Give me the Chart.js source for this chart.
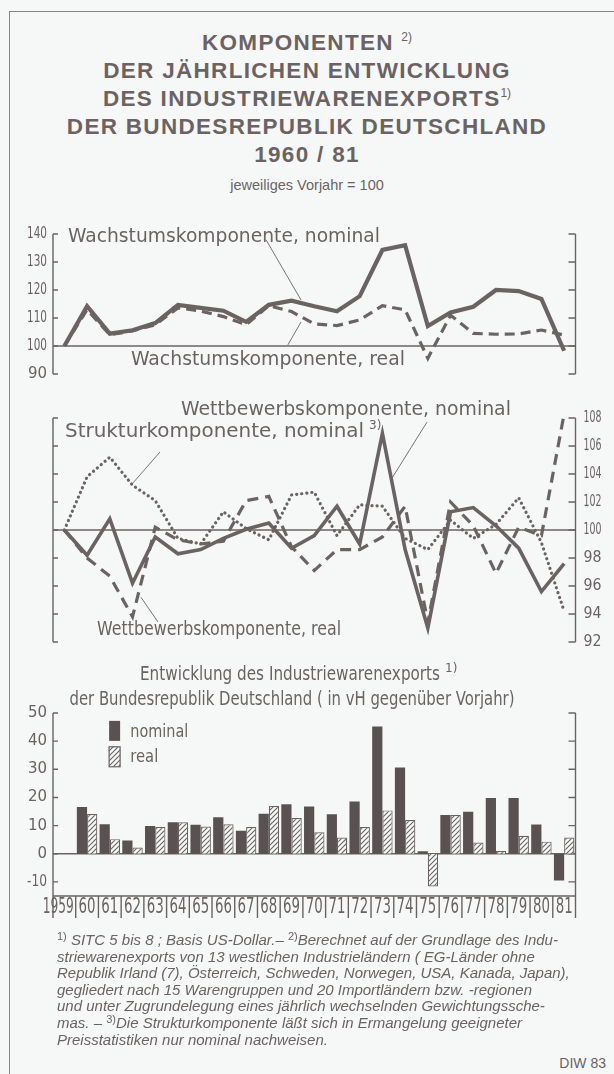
<!DOCTYPE html>
<html lang="de">
<head>
<meta charset="utf-8">
<script src="https://cdn.jsdelivr.net/npm/chart.js@4.4.1/dist/chart.umd.min.js"></script>
<style>
  html, body { margin: 0; padding: 0; }
  body {
    width: 614px; height: 1074px; position: relative; overflow: hidden;
    background: #f6f8f7; color: #6b6363;
    font-family: "Liberation Sans", Arial, sans-serif;
  }
  .frame {
    position: absolute; left: 9px; top: 11px; width: 620px; height: 1080px;
    border-left: 1.5px solid #8b8484; border-top: 1.5px solid #8b8484;
  }
  .title {
    position: absolute; left: 0; top: 29px; width: 614px; text-align: center;
    font-weight: bold; font-size: 22.5px; line-height: 28px; letter-spacing: 1.3px;
  }
  .title .sup { font-size: 12px; font-weight: normal; position: relative; top: -9px; line-height: 0; letter-spacing: 0; }
  .title .sub { font-size: 14.5px; font-weight: normal; letter-spacing: 0; }
  canvas { position: absolute; left: 0; }
  .notes {
    position: absolute; left: 57px; top: 932px; width: 550px;
    font-style: italic; font-size: 15px; line-height: 16.6px; white-space: nowrap;
  }
  .notes .sup { font-style: normal; font-size: 11px; position: relative; top: -5px; line-height: 0; }
  .diw { position: absolute; right: 8px; top: 1055px; font-size: 14px; }
</style>
</head>
<body>
<div class="frame"></div>
<div class="title">
  KOMPONENTEN <span class="sup">2)</span><br>
  DER JÄHRLICHEN ENTWICKLUNG<br>
  DES INDUSTRIEWARENEXPORTS<span class="sup">1)</span><br>
  DER BUNDESREPUBLIK DEUTSCHLAND<br>
  1960 / 81<br>
  <span class="sub">jeweiliges Vorjahr = 100</span>
</div>

<canvas id="c1" width="614" height="180" style="top:214px"></canvas>
<canvas id="c2" width="614" height="260" style="top:400px"></canvas>
<canvas id="c3" width="614" height="280" style="top:650px"></canvas>

<div class="notes">
  <span class="sup">1)</span> SITC 5 bis 8 ; Basis US-Dollar.– <span class="sup">2)</span>Berechnet auf der Grundlage des Indu-<br>
  striewarenexports von 13 westlichen Industrieländern ( EG-Länder ohne<br>
  Republik Irland (7), Österreich, Schweden, Norwegen, USA, Kanada, Japan),<br>
  gegliedert nach 15 Warengruppen und 20 Importländern bzw. -regionen<br>
  und unter Zugrundelegung eines jährlich wechselnden Gewichtungssche-<br>
  mas. – <span class="sup">3)</span>Die Strukturkomponente läßt sich in Ermangelung geeigneter<br>
  Preisstatistiken nur nominal nachweisen.
</div>
<div class="diw">DIW 83</div>

<script>
const INK = '#6b6363';
const DARK = '#5a5252';
const BG = '#f6f8f7';
const COND = '"DejaVu Sans", "Liberation Sans", sans-serif';

// Jahre 1959 - 1981
const years = ['1959', '60', '61', '62', '63', '64', '65', '66', '67', '68', '69', '70',
  '71', '72', '73', '74', '75', '76', '77', '78', '79', '80', '81'];

// Wachstumskomponente (Vorjahr = 100)
const wachsNominal = [100, 114.2, 104.4, 105.6, 108.2, 114.7, 113.6, 112.6, 108.6, 114.7, 116.2, 114.2,
  112.4, 117.8, 134.3, 136.0, 107.1, 112.0, 114.0, 120.0, 119.6, 116.8, 98.3];
const wachsReal = [100, 113.0, 104.0, 105.4, 107.6, 113.6, 112.5, 110.5, 107.6, 114.4, 112.3, 107.9,
  107.3, 109.3, 114.4, 112.9, 95.6, 111.0, 104.5, 104.2, 104.3, 105.7, 103.9];
const wachsTicks = [90, 100, 110, 120, 130, 140];

// Wettbewerbs- und Strukturkomponente
const wettNominal = [100, 98.2, 100.8, 96.2, 99.5, 98.3, 98.6, 99.4, 100.05, 100.5, 98.7, 99.6,
  101.7, 99.0, 106.9, 98.6, 93.0, 101.3, 101.6, 100.3, 98.7, 95.6, 97.6];
const wettReal = [100, 98.0, 96.7, 93.8, 100.2, 99.3, 99.0, 99.2, 102.1, 102.4, 98.8, 97.1,
  98.6, 98.6, 99.5, 101.7, 93.4, 102.0, 100.3, 96.9, 100.2, 99.6, 108.3];
const strukturNominal = [100, 103.8, 105.2, 103.2, 102.1, 99.4, 99.0, 101.3, 100.1, 99.3, 102.5, 102.7,
  99.6, 101.8, 101.7, 99.4, 98.6, 100.7, 99.4, 100.4, 102.3, 99.1, 94.2];
const wettTicks = [92, 94, 96, 98, 100, 102, 104, 106, 108];

// Exporte, Veraenderung in vH gegenueber Vorjahr
const exportNominal = [null, 16.6, 10.5, 4.7, 9.9, 11.2, 10.3, 13.0, 8.2, 14.2, 17.6, 16.8,
  14.0, 18.6, 45.2, 30.6, 0.9, 13.8, 14.9, 19.8, 19.8, 10.4, -9.5];
const exportReal = [null, 14.1, 5.2, 2.2, 9.5, 11.2, 9.7, 10.5, 9.5, 17.0, 12.7, 7.6,
  5.8, 9.5, 15.4, 12.0, -11.6, 13.8, 4.0, 1.0, 6.4, 4.3, 5.8];
const exportTicks = [-10, 0, 10, 20, 30, 40, 50];

function hatchPattern() {
  const c = document.createElement('canvas');
  c.width = 5; c.height = 5;
  const g = c.getContext('2d');
  g.fillStyle = BG; g.fillRect(0, 0, 5, 5);
  g.strokeStyle = INK; g.lineWidth = 1.1;
  g.beginPath();
  g.moveTo(-1, 6); g.lineTo(6, -1);
  g.moveTo(-1, 1); g.lineTo(1, -1);
  g.moveTo(4, 6); g.lineTo(6, 4);
  g.stroke();
  return g.createPattern(c, 'repeat');
}

function drawText(ctx, t, px, py, size, w, align) {
  ctx.font = size + 'px ' + COND;
  ctx.textAlign = align || 'left';
  ctx.textBaseline = 'middle';
  ctx.fillText(t, px, py, w);
}

// Achsen, Hilfslinien und Beschriftungen
const decor = {
  id: 'decor',
  beforeDatasetsDraw(chart, args, o) {
    const { ctx, chartArea: a } = chart;
    const x = chart.scales.x, y = chart.scales.y;
    ctx.save();
    ctx.strokeStyle = INK;
    ctx.lineWidth = 1.4;
    const top = y.getPixelForValue(o.top);
    const bot = a.bottom + (o.extend || 0);
    ctx.beginPath();
    ctx.moveTo(a.left, top); ctx.lineTo(a.left, bot);
    ctx.moveTo(a.right, top); ctx.lineTo(a.right, bot);
    o.ticks.forEach(v => {
      const py = y.getPixelForValue(v);
      ctx.moveTo(a.left, py); ctx.lineTo(a.left + 5, py);
      ctx.moveTo(a.right, py); ctx.lineTo(a.right - 7, py);
    });
    ctx.stroke();
    if (o.ref != null) {
      const py = y.getPixelForValue(o.ref);
      ctx.lineWidth = 1.6;
      ctx.beginPath(); ctx.moveTo(a.left, py); ctx.lineTo(a.right, py); ctx.stroke();
    }
    if (o.baseline) {
      ctx.lineWidth = 1.4;
      ctx.beginPath(); ctx.moveTo(a.left, a.bottom); ctx.lineTo(a.right, a.bottom);
      for (let i = 0; i < years.length - 1; i++) {
        const px = (x.getPixelForValue(i) + x.getPixelForValue(i + 1)) / 2;
        ctx.moveTo(px, a.bottom); ctx.lineTo(px, bot);
      }
      ctx.stroke();
    }
    ctx.restore();
  },
  afterDatasetsDraw(chart, args, o) {
    const { ctx, chartArea: a } = chart;
    const x = chart.scales.x, y = chart.scales.y;
    ctx.save();
    ctx.fillStyle = INK;
    ctx.strokeStyle = INK;
    // Skalenbeschriftung
    o.ticks.forEach(v => {
      if (o.labelSide === 'left') drawText(ctx, String(v), a.left - 6, y.getPixelForValue(v), 15, 20, 'right');
      else if (o.labelSide === 'right') drawText(ctx, String(v), a.right + 8, y.getPixelForValue(v), 15, 18, 'left');
    });
    if (o.baseline) {
      years.forEach((lab, i) => {
        const px = x.getPixelForValue(i);
        const py = a.bottom + 12;
        if (i === 0) drawText(ctx, lab, (px + x.getPixelForValue(1)) / 2 - 2, py, 21, 31, 'right');
        else drawText(ctx, lab, px, py, 21, 17, 'center');
      });
    }
    // Hinweislinien
    ctx.lineWidth = 0.9;
    (o.leaders || []).forEach(l => {
      ctx.beginPath();
      ctx.moveTo(x.getPixelForValue(l[0]), y.getPixelForValue(l[1]));
      ctx.lineTo(x.getPixelForValue(l[2]), y.getPixelForValue(l[3]));
      ctx.stroke();
    });
    // Reihenbeschriftungen
    (o.texts || []).forEach(t => {
      const px = x.getPixelForValue(t.x), py = y.getPixelForValue(t.y);
      drawText(ctx, t.t, px, py, t.size, t.w, 'left');
      if (t.sup) drawText(ctx, t.sup, px + t.w + 5, py - 6, 12, 16, 'left');
    });
    (o.free || []).forEach(t => {
      drawText(ctx, t.t, t.px, t.py, t.size, t.w, 'center');
      if (t.sup) drawText(ctx, t.sup, t.px + t.w / 2 + 5, t.py - 6, 12, 16, 'left');
    });
    ctx.restore();
  }
};

const baseOptions = (pad, yMin, yMax) => ({
  responsive: false,
  animation: false,
  devicePixelRatio: 1,
  layout: { padding: pad },
  plugins: { legend: { display: false }, tooltip: { enabled: false } },
  scales: {
    x: { type: 'category', offset: true, display: false },
    y: { type: 'linear', min: yMin, max: yMax, display: false }
  }
});

const lineSet = (data, width, dash, cap) => ({
  data, borderColor: INK, borderWidth: width, borderDash: dash || [],
  borderCapStyle: cap || 'butt', borderJoinStyle: 'miter',
  pointRadius: 0, tension: 0, fill: false
});

// Diagramm 1: Wachstumskomponente
const opt1 = baseOptions({ left: 53, right: 38.5, top: 20, bottom: 20 }, 90, 140);
opt1.plugins.decor = {
  top: 140, ticks: wachsTicks, labelSide: 'left', ref: 100,
  texts: [
    { t: 'Wachstumskomponente, nominal', x: 0.16, y: 139, size: 20, w: 312 },
    { t: 'Wachstumskomponente, real', x: 2.93, y: 95, size: 20, w: 274 }
  ],
  leaders: [[8.88, 137.9, 10.42, 116.4], [9.84, 100.4, 10.42, 108.6]]
};
new Chart(document.getElementById('c1'), {
  type: 'line',
  data: {
    labels: years,
    datasets: [
      lineSet(wachsReal, 3.2, [10, 6]),
      lineSet(wachsNominal, 4.2)
    ]
  },
  options: opt1,
  plugins: [decor]
});

// Diagramm 2: Wettbewerbs- und Strukturkomponente
const opt2 = baseOptions({ left: 53, right: 38.5, top: 18, bottom: 18 }, 92, 108);
opt2.plugins.decor = {
  top: 108, ticks: wettTicks, labelSide: 'right', ref: 100,
  texts: [
    { t: 'Wettbewerbskomponente, nominal', x: 5.13, y: 108.57, size: 20, w: 330 },
    { t: 'Strukturkomponente, nominal', x: 0.03, y: 107.0, size: 20, w: 299, sup: '3)' },
    { t: 'Wettbewerbskomponente, real', x: 1.44, y: 92.86, size: 20, w: 244 }
  ],
  leaders: [[15.96, 107.7, 14.42, 103.7], [4.21, 105.57, 3.02, 103.36], [4.12, 93.43, 3.37, 95.2]]
};
new Chart(document.getElementById('c2'), {
  type: 'line',
  data: {
    labels: years,
    datasets: [
      lineSet(strukturNominal, 3.2, [0.1, 5], 'round'),
      lineSet(wettReal, 3.2, [11, 7]),
      lineSet(wettNominal, 3.6)
    ]
  },
  options: opt2,
  plugins: [decor]
});

// Diagramm 3: Industriewarenexporte
const opt3 = baseOptions({ left: 53, right: 38.5, top: 63, bottom: 34 }, -15, 50);
opt3.plugins.decor = {
  top: 50, ticks: exportTicks, labelSide: 'left', ref: 0, extend: 22, baseline: true,
  free: [
    { t: 'Entwicklung des Industriewarenexports', px: 290, py: 25, size: 19, w: 300, sup: '1)' },
    { t: 'der Bundesrepublik Deutschland ( in vH gegenüber Vorjahr)', px: 292, py: 50, size: 19, w: 445 }
  ],
  texts: [
    { t: 'nominal', x: 2.9, y: 43.2, size: 17, w: 58 },
    { t: 'real', x: 2.9, y: 34.2, size: 17, w: 28 }
  ]
};
const legendBoxes = {
  id: 'legendBoxes',
  afterDatasetsDraw(chart) {
    const { ctx } = chart;
    const x = chart.scales.x, y = chart.scales.y;
    const left = x.getPixelForValue(1.97), w = 11, h = 20;
    ctx.save();
    ctx.fillStyle = DARK;
    ctx.fillRect(left, y.getPixelForValue(47.2), w, h);
    ctx.fillStyle = chart.data.datasets[1].backgroundColor;
    const t2 = y.getPixelForValue(38);
    ctx.fillRect(left, t2, w, h);
    ctx.strokeStyle = INK; ctx.lineWidth = 1.2;
    ctx.strokeRect(left, t2, w, h);
    ctx.restore();
  }
};
new Chart(document.getElementById('c3'), {
  type: 'bar',
  data: {
    labels: years,
    datasets: [
      { data: exportNominal, backgroundColor: DARK, borderWidth: 0,
        categoryPercentage: 0.9, barPercentage: 1.0 },
      { data: exportReal, backgroundColor: hatchPattern(), borderColor: INK, borderWidth: 1.2,
        categoryPercentage: 0.9, barPercentage: 1.0 }
    ]
  },
  options: opt3,
  plugins: [decor, legendBoxes]
});
</script>
</body>
</html>
